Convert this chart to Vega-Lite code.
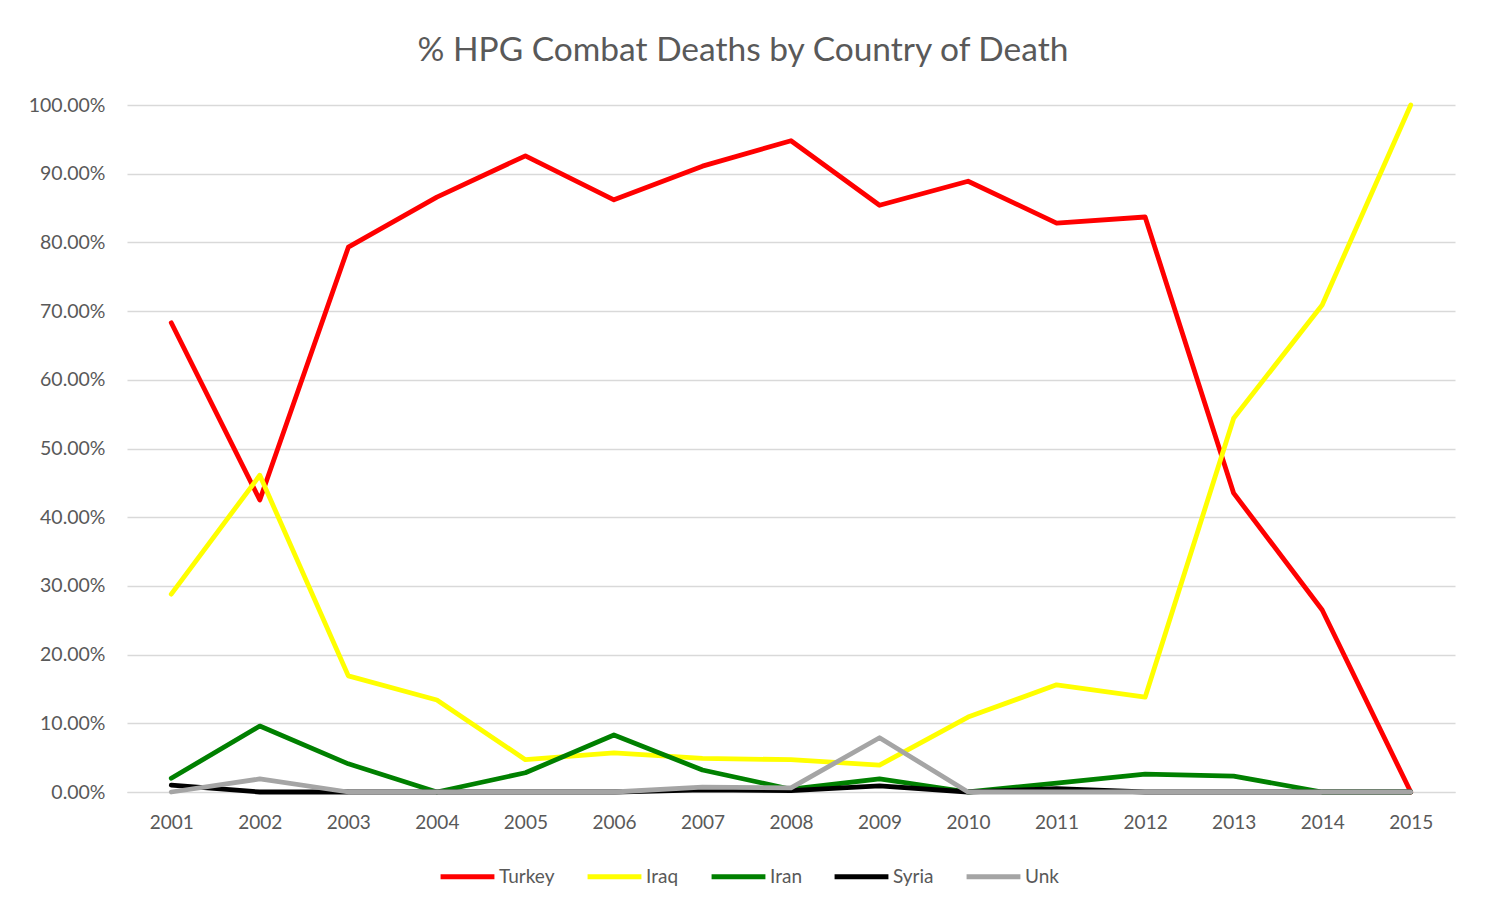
{
  "$schema": "https://vega.github.io/schema/vega-lite/v6.json",
  "autosize": "none",
  "width": 1328,
  "height": 687,
  "padding": {"left": 127, "top": 105, "right": 31, "bottom": 119},
  "background": "white",
  "title": {
    "text": "% HPG Combat Deaths by Country of Death",
    "font": "Lato",
    "fontSize": 33.5,
    "fontWeight": "normal",
    "color": "#595959",
    "anchor": "middle",
    "offset": 27,
    "dx": -48
  },
  "data": {
    "values": [
      {"year": "2001", "country": "Turkey", "pct": 0.683},
      {"year": "2002", "country": "Turkey", "pct": 0.425},
      {"year": "2003", "country": "Turkey", "pct": 0.793},
      {"year": "2004", "country": "Turkey", "pct": 0.866},
      {"year": "2005", "country": "Turkey", "pct": 0.926},
      {"year": "2006", "country": "Turkey", "pct": 0.862},
      {"year": "2007", "country": "Turkey", "pct": 0.911},
      {"year": "2008", "country": "Turkey", "pct": 0.948},
      {"year": "2009", "country": "Turkey", "pct": 0.854},
      {"year": "2010", "country": "Turkey", "pct": 0.889},
      {"year": "2011", "country": "Turkey", "pct": 0.828},
      {"year": "2012", "country": "Turkey", "pct": 0.837},
      {"year": "2013", "country": "Turkey", "pct": 0.435},
      {"year": "2014", "country": "Turkey", "pct": 0.265},
      {"year": "2015", "country": "Turkey", "pct": 0.0},
      {"year": "2001", "country": "Iraq", "pct": 0.288},
      {"year": "2002", "country": "Iraq", "pct": 0.461},
      {"year": "2003", "country": "Iraq", "pct": 0.169},
      {"year": "2004", "country": "Iraq", "pct": 0.134},
      {"year": "2005", "country": "Iraq", "pct": 0.047},
      {"year": "2006", "country": "Iraq", "pct": 0.057},
      {"year": "2007", "country": "Iraq", "pct": 0.049},
      {"year": "2008", "country": "Iraq", "pct": 0.047},
      {"year": "2009", "country": "Iraq", "pct": 0.039},
      {"year": "2010", "country": "Iraq", "pct": 0.109},
      {"year": "2011", "country": "Iraq", "pct": 0.156},
      {"year": "2012", "country": "Iraq", "pct": 0.138},
      {"year": "2013", "country": "Iraq", "pct": 0.544},
      {"year": "2014", "country": "Iraq", "pct": 0.709},
      {"year": "2015", "country": "Iraq", "pct": 1.0},
      {"year": "2001", "country": "Iran", "pct": 0.020},
      {"year": "2002", "country": "Iran", "pct": 0.096},
      {"year": "2003", "country": "Iran", "pct": 0.041},
      {"year": "2004", "country": "Iran", "pct": 0.0},
      {"year": "2005", "country": "Iran", "pct": 0.028},
      {"year": "2006", "country": "Iran", "pct": 0.083},
      {"year": "2007", "country": "Iran", "pct": 0.032},
      {"year": "2008", "country": "Iran", "pct": 0.004},
      {"year": "2009", "country": "Iran", "pct": 0.019},
      {"year": "2010", "country": "Iran", "pct": 0.0},
      {"year": "2011", "country": "Iran", "pct": 0.013},
      {"year": "2012", "country": "Iran", "pct": 0.026},
      {"year": "2013", "country": "Iran", "pct": 0.023},
      {"year": "2014", "country": "Iran", "pct": 0.0},
      {"year": "2015", "country": "Iran", "pct": 0.0},
      {"year": "2001", "country": "Syria", "pct": 0.010},
      {"year": "2002", "country": "Syria", "pct": 0.0},
      {"year": "2003", "country": "Syria", "pct": 0.0},
      {"year": "2004", "country": "Syria", "pct": 0.0},
      {"year": "2005", "country": "Syria", "pct": 0.0},
      {"year": "2006", "country": "Syria", "pct": 0.0},
      {"year": "2007", "country": "Syria", "pct": 0.003},
      {"year": "2008", "country": "Syria", "pct": 0.002},
      {"year": "2009", "country": "Syria", "pct": 0.009},
      {"year": "2010", "country": "Syria", "pct": 0.0},
      {"year": "2011", "country": "Syria", "pct": 0.005},
      {"year": "2012", "country": "Syria", "pct": 0.0},
      {"year": "2013", "country": "Syria", "pct": 0.0},
      {"year": "2014", "country": "Syria", "pct": 0.0},
      {"year": "2015", "country": "Syria", "pct": 0.0},
      {"year": "2001", "country": "Unk", "pct": 0.0},
      {"year": "2002", "country": "Unk", "pct": 0.019},
      {"year": "2003", "country": "Unk", "pct": 0.0},
      {"year": "2004", "country": "Unk", "pct": 0.0},
      {"year": "2005", "country": "Unk", "pct": 0.0},
      {"year": "2006", "country": "Unk", "pct": 0.0},
      {"year": "2007", "country": "Unk", "pct": 0.007},
      {"year": "2008", "country": "Unk", "pct": 0.006},
      {"year": "2009", "country": "Unk", "pct": 0.079},
      {"year": "2010", "country": "Unk", "pct": 0.0},
      {"year": "2011", "country": "Unk", "pct": 0.0},
      {"year": "2012", "country": "Unk", "pct": 0.0},
      {"year": "2013", "country": "Unk", "pct": 0.0},
      {"year": "2014", "country": "Unk", "pct": 0.0},
      {"year": "2015", "country": "Unk", "pct": 0.0}
    ]
  },
  "mark": {"type": "line", "strokeWidth": 4.8, "strokeJoin": "round", "strokeCap": "round"},
  "encoding": {
    "x": {
      "field": "year",
      "type": "ordinal",
      "scale": {"type": "point", "padding": 0.5},
      "axis": {
        "title": null,
        "labelAngle": 0,
        "labelFont": "Lato",
        "labelFontSize": 19,
        "labelColor": "#595959",
        "labelPadding": 21,
        "ticks": false,
        "domain": true,
        "domainColor": "#d9d9d9",
        "grid": false
      }
    },
    "y": {
      "field": "pct",
      "type": "quantitative",
      "scale": {"domain": [0, 1]},
      "axis": {
        "title": null,
        "format": ".2%",
        "values": [0, 0.1, 0.2, 0.3, 0.4, 0.5, 0.6, 0.7, 0.8, 0.9, 1.0],
        "labelFont": "Lato",
        "labelFontSize": 19.5,
        "labelColor": "#595959",
        "labelPadding": 22,
        "ticks": false,
        "domain": false,
        "grid": true,
        "gridColor": "#d9d9d9",
        "gridWidth": 1.3
      }
    },
    "color": {
      "field": "country",
      "type": "nominal",
      "sort": ["Turkey", "Iraq", "Iran", "Syria", "Unk"],
      "scale": {
        "domain": ["Turkey", "Iraq", "Iran", "Syria", "Unk"],
        "range": ["#ff0000", "#ffff00", "#008000", "#000000", "#a5a5a5"]
      },
      "legend": {
        "title": null,
        "orient": "none",
        "direction": "horizontal",
        "legendX": 311,
        "legendY": 742,
        "symbolType": "stroke",
        "symbolStrokeWidth": 5,
        "symbolSize": 2900,
        "labelFont": "Lato",
        "labelFontSize": 19,
        "labelColor": "#595959",
        "labelOffset": 2,
        "columnPadding": 22
      }
    },
    "order": {"field": "year"}
  },
  "config": {"view": {"stroke": null}}
}
